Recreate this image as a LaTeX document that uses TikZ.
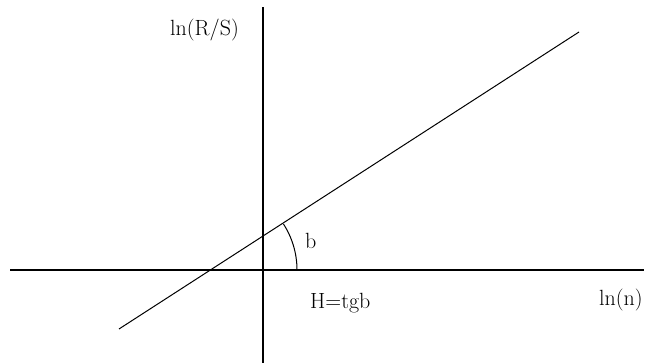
\documentclass[tikz,border=0pt]{standalone}
\begin{document}
\begin{tikzpicture}[x=1pt,y=1pt,
  axis/.style={line width=1.3pt,black},
  graphline/.style={line width=1pt,black},
  lbl/.style={inner sep=0pt,anchor=base west,font=\fontsize{22}{26}\selectfont}]
\useasboundingbox (0,0) rectangle (647,363);
\coordinate (hl) at (10,93);
\coordinate (hr) at (644,93);
\coordinate (vt) at (263,356);
\coordinate (vb) at (263,0);
\coordinate (ls) at (119,34);
\coordinate (le) at (579,331);
\coordinate (arcstart) at (297,93);
\draw[axis] (hl) -- (hr);
\draw[axis] (vb) -- (vt);
\draw[graphline] (ls) -- (le);
\draw[graphline] (arcstart) arc[start angle=0,end angle=32.85,radius=85];
\node[lbl] (lnRS) at (170,327) {ln(R/S)};
\node[lbl] (b) at (305,114) {b};
\node[lbl] (H) at (310,54) {H=tgb};
\node[lbl] (lnn) at (599,57) {ln(n)};
\end{tikzpicture}
\end{document}
